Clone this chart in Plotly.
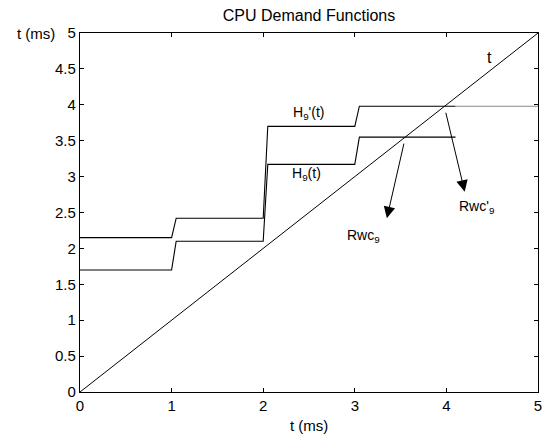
import plotly.graph_objects as go

# ---- data ----
step_starts = [0, 1, 2, 3]          # ms, where each step level begins
step_end = 4.1                      # ms, where the drawn step curves end
jump_width = 0.05                   # ms, slant of each jump
h9_levels = [1.7, 2.1, 3.17, 3.55]          # H9(t)
h9p_levels = [2.15, 2.42, 3.7, 3.98]        # H9'(t)
h9p_tail_end = 5.0                          # grey continuation of H9'(t)
t_line_x = [0, 5]
t_line_y = [0, 5]

x_ticks = [0, 1, 2, 3, 4, 5]
y_ticks = [0, 0.5, 1, 1.5, 2, 2.5, 3, 3.5, 4, 4.5, 5]

# arrows: (tail_x, tail_y, head_x, head_y)
arrow_rwc9 = (3.54, 3.48, 3.35, 2.42)
arrow_rwcp9 = (3.99, 3.91, 4.20, 2.79)

FONT = "Arial, Liberation Sans, Helvetica, sans-serif"


def step_curve(levels):
    xs, ys = [], []
    for i, lv in enumerate(levels):
        x0 = step_starts[i] + (jump_width if i > 0 else 0)
        x1 = step_starts[i + 1] if i + 1 < len(step_starts) else step_end
        xs += [x0, x1]
        ys += [lv, lv]
    return xs, ys


fig = go.Figure()

x, y = step_curve(h9_levels)
fig.add_trace(go.Scatter(x=x, y=y, mode="lines",
                         line=dict(color="black", width=1.1), showlegend=False))
x, y = step_curve(h9p_levels)
fig.add_trace(go.Scatter(x=x, y=y, mode="lines",
                         line=dict(color="black", width=1.1), showlegend=False))
fig.add_trace(go.Scatter(x=[step_end, h9p_tail_end], y=[h9p_levels[-1], h9p_levels[-1]],
                         mode="lines", line=dict(color="#8a8a8a", width=1.1),
                         showlegend=False))
fig.add_trace(go.Scatter(x=t_line_x, y=t_line_y, mode="lines",
                         line=dict(color="black", width=1), showlegend=False))

ann = []
for tx, ty, hx, hy in (arrow_rwc9, arrow_rwcp9):
    ann.append(dict(x=hx, y=hy, ax=tx, ay=ty, xref="x", yref="y", axref="x", ayref="y",
                    text="", showarrow=True, arrowhead=2, arrowsize=2.3,
                    arrowwidth=1, arrowcolor="black", standoff=0, startstandoff=0))

lbl_font = dict(family=FONT, size=14, color="black")
ann += [
    dict(x=2.49, y=3.88, xref="x", yref="y", text="H<sub>9</sub>'(t)", showarrow=False, font=lbl_font),
    dict(x=2.47, y=3.04, xref="x", yref="y", text="H<sub>9</sub>(t)", showarrow=False, font=lbl_font),
    dict(x=3.10, y=2.17, xref="x", yref="y", text="Rwc<sub>9</sub>", showarrow=False, font=lbl_font),
    dict(x=4.33, y=2.58, xref="x", yref="y", text="Rwc'<sub>9</sub>", showarrow=False, font=lbl_font),
    dict(x=4.47, y=4.66, xref="x", yref="y", text="t", showarrow=False,
         font=dict(family=FONT, size=16, color="black")),
    dict(x=-0.05, y=1.0, xref="paper", yref="paper", text="t (ms)", showarrow=False,
         xanchor="right", yanchor="middle", font=dict(family=FONT, size=15, color="black")),
    dict(x=0.5, y=-0.093, xref="paper", yref="paper", text="t (ms)", showarrow=False,
         xanchor="center", yanchor="middle", font=dict(family=FONT, size=15, color="black")),
]

axis_common = dict(showgrid=False, zeroline=False, showline=True, linecolor="black",
                   linewidth=1.3, mirror="allticks", ticks="inside", ticklen=4,
                   tickcolor="black", tickfont=dict(family=FONT, size=15, color="black"))

W, H = 544, 430
fig.update_layout(
    width=W, height=H,
    margin=dict(l=72, r=10, t=25, b=46),
    paper_bgcolor="white", plot_bgcolor="white",
    title=dict(text="CPU Demand Functions", x=0.5, xref="paper", y=1 - 7 / H,
               yref="container", xanchor="center", yanchor="middle",
               font=dict(family=FONT, size=16, color="black")),
    xaxis=dict(range=[0, 5], tickvals=x_ticks, **axis_common),
    yaxis=dict(range=[0, 5], tickvals=y_ticks, **axis_common),
    annotations=ann,
)

fig.write_html("out.html")
